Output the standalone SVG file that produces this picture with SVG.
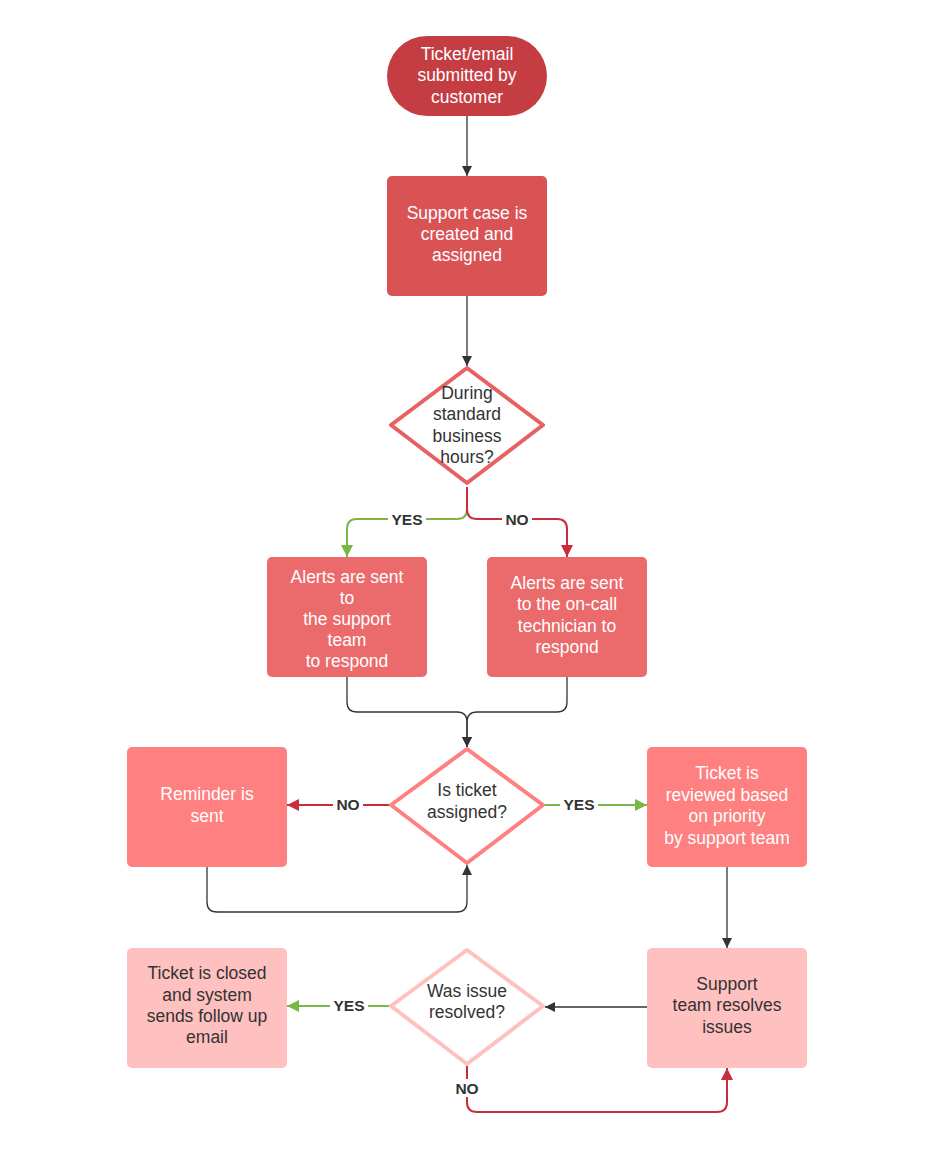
<svg xmlns="http://www.w3.org/2000/svg" width="945" height="1151" viewBox="0 0 945 1151">
<defs>
<marker id="ab" viewBox="0 0 10 10" refX="10" refY="5" markerWidth="10" markerHeight="10" markerUnits="userSpaceOnUse" orient="auto"><path d="M0,0 L10,5 L0,10 z" fill="#333333"/></marker>
<marker id="ag" viewBox="0 0 10 10" refX="10" refY="5" markerWidth="12" markerHeight="12" markerUnits="userSpaceOnUse" orient="auto"><path d="M0,0 L10,5 L0,10 z" fill="#7AB648"/></marker>
<marker id="ar" viewBox="0 0 10 10" refX="10" refY="5" markerWidth="12" markerHeight="12" markerUnits="userSpaceOnUse" orient="auto"><path d="M0,0 L10,5 L0,10 z" fill="#C92D39"/></marker>
</defs>
<style>
text{font-family:"Liberation Sans",Arial,sans-serif;font-size:17.5px;text-anchor:middle}
.w{fill:#ffffff}
.d{fill:#333333}
.lb{font-size:15.5px;font-weight:bold;fill:#333333}
.cb{fill:none;stroke:#333333;stroke-width:1.3}
.cg{fill:none;stroke:#7AB648;stroke-width:2}
.cr{fill:none;stroke:#C92D39;stroke-width:2}
.lbg{fill:#ffffff}
</style>
<rect width="945" height="1151" fill="#ffffff"/>
<g id="connectors">
<path class="cb" d="M467,116 V176" marker-end="url(#ab)"/>
<path class="cb" d="M467,296 V366" marker-end="url(#ab)"/>
<path class="cg" d="M467,487 V509 Q467,519 457,519 H357 Q347,519 347,529 V557" marker-end="url(#ag)"/>
<path class="cr" d="M467,487 V509 Q467,519 477,519 H557 Q567,519 567,529 V557" marker-end="url(#ar)"/>
<path class="cb" d="M347,677 V702 Q347,712 357,712 H457 Q467,712 467,722 V747" marker-end="url(#ab)"/>
<path class="cb" d="M567,677 V702 Q567,712 557,712 H477 Q467,712 467,722 V747" marker-end="url(#ab)"/>
<path class="cr" d="M389,805 H287" marker-end="url(#ar)"/>
<path class="cg" d="M545,805 H647" marker-end="url(#ag)"/>
<path class="cb" d="M207,867 V902 Q207,912 217,912 H457 Q467,912 467,902 V865" marker-end="url(#ab)"/>
<path class="cb" d="M727,867 V948" marker-end="url(#ab)"/>
<path class="cb" d="M647,1007 H545" marker-end="url(#ab)"/>
<path class="cg" d="M389,1006 H287" marker-end="url(#ag)"/>
<path class="cr" d="M467,1066 V1102 Q467,1112 477,1112 H717 Q727,1112 727,1102 V1068" marker-end="url(#ar)"/>
<rect class="lbg" x="388" y="510" width="38" height="18"/>
<text class="lb" x="407" y="525">YES</text>
<rect class="lbg" x="502" y="510" width="30" height="18"/>
<text class="lb" x="517" y="525">NO</text>
<rect class="lbg" x="333" y="796" width="30" height="18"/>
<text class="lb" x="348" y="810">NO</text>
<rect class="lbg" x="560" y="796" width="38" height="18"/>
<text class="lb" x="579" y="810">YES</text>
<rect class="lbg" x="330" y="997" width="38" height="18"/>
<text class="lb" x="349" y="1011">YES</text>
<rect class="lbg" x="452" y="1079" width="30" height="18"/>
<text class="lb" x="467" y="1094">NO</text>
</g>
<g id="start">
<rect x="387" y="36" width="160" height="80" rx="40" fill="#C43D43"/>
<text class="w" x="467" y="60">Ticket/email</text>
<text class="w" x="467" y="81">submitted by</text>
<text class="w" x="467" y="103">customer</text>
</g>
<g id="case">
<rect x="387" y="176" width="160" height="120" rx="5" fill="#D95355"/>
<text class="w" x="467" y="219">Support case is</text>
<text class="w" x="467" y="240">created and</text>
<text class="w" x="467" y="261">assigned</text>
</g>
<g id="hours">
<path d="M467,368 L543,425 L467,483 L391,425 Z" fill="#ffffff" stroke="#E76062" stroke-width="4" stroke-linejoin="round"/>
<text class="d" x="467" y="399">During</text>
<text class="d" x="467" y="420">standard</text>
<text class="d" x="467" y="442">business</text>
<text class="d" x="467" y="463">hours?</text>
</g>
<g id="alert-team">
<rect x="267" y="557" width="160" height="120" rx="5" fill="#EB6A6B"/>
<text class="w" x="347" y="583">Alerts are sent</text>
<text class="w" x="347" y="604">to</text>
<text class="w" x="347" y="625">the support</text>
<text class="w" x="347" y="646">team</text>
<text class="w" x="347" y="667">to respond</text>
</g>
<g id="alert-oncall">
<rect x="487" y="557" width="160" height="120" rx="5" fill="#EB6A6B"/>
<text class="w" x="567" y="589">Alerts are sent</text>
<text class="w" x="567" y="610">to the on-call</text>
<text class="w" x="567" y="632">technician to</text>
<text class="w" x="567" y="653">respond</text>
</g>
<g id="assigned">
<path d="M467,749 L543,805 L467,863 L391,805 Z" fill="#ffffff" stroke="#FF8080" stroke-width="4" stroke-linejoin="round"/>
<text class="d" x="467" y="796">Is ticket</text>
<text class="d" x="467" y="818">assigned?</text>
</g>
<g id="reminder">
<rect x="127" y="747" width="160" height="120" rx="5" fill="#FF8080"/>
<text class="w" x="207" y="800">Reminder is</text>
<text class="w" x="207" y="822">sent</text>
</g>
<g id="reviewed">
<rect x="647" y="747" width="160" height="120" rx="5" fill="#FF8080"/>
<text class="w" x="727" y="779">Ticket is</text>
<text class="w" x="727" y="801">reviewed based</text>
<text class="w" x="727" y="822">on priority</text>
<text class="w" x="727" y="844">by support team</text>
</g>
<g id="resolved">
<path d="M467,950 L543,1006 L467,1064 L391,1006 Z" fill="#ffffff" stroke="#FFC0C0" stroke-width="4" stroke-linejoin="round"/>
<text class="d" x="467" y="997">Was issue</text>
<text class="d" x="467" y="1018">resolved?</text>
</g>
<g id="closed">
<rect x="127" y="948" width="160" height="120" rx="5" fill="#FFC0C0"/>
<text class="d" x="207" y="979">Ticket is closed</text>
<text class="d" x="207" y="1001">and system</text>
<text class="d" x="207" y="1022">sends follow up</text>
<text class="d" x="207" y="1043">email</text>
</g>
<g id="resolves">
<rect x="647" y="948" width="160" height="120" rx="5" fill="#FFC0C0"/>
<text class="d" x="727" y="990">Support</text>
<text class="d" x="727" y="1011">team resolves</text>
<text class="d" x="727" y="1033">issues</text>
</g>
</svg>
